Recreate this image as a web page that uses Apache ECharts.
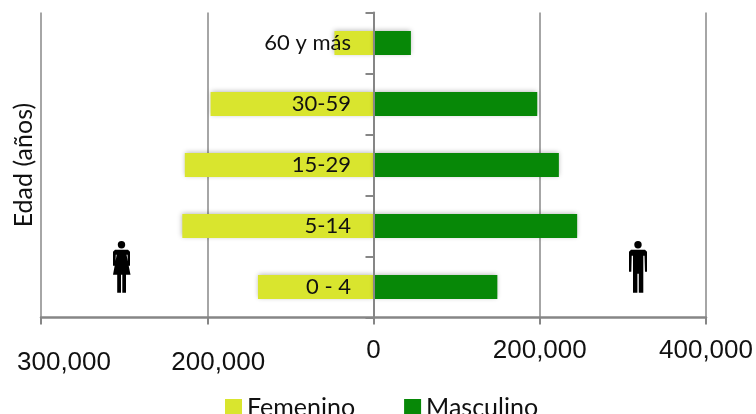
<!DOCTYPE html>
<html>
<head>
<meta charset="utf-8">
<script src="https://cdn.jsdelivr.net/npm/echarts@6/dist/echarts.min.js"></script>
<style>
html, body { margin: 0; padding: 0; background: #fff; overflow: hidden; }
#echart { width: 756px; height: 414px; }
</style>
</head>
<body>
<div id="echart"></div>
<script>
var edades = ['0 - 4', '5-14', '15-29', '30-59', '60 y más'];
var femenino = [-139000, -230000, -227000, -196000, -47000];
var masculino = [149000, 245000, 223000, 197000, 45000];
var tickLabels = { '-400000': '300,000', '-200000': '200,000', '0': '0', '200000': '200,000', '400000': '400,000' };

var myChart = echarts.init(document.getElementById('echart'));
var sombra = { shadowColor: 'rgba(0,0,0,0.3)', shadowBlur: 5, shadowOffsetY: -1 };

var option = {
    animation: false,
    textStyle: { fontFamily: 'Lato' },
    legend: {
        left: 220,
        top: 390,
        itemWidth: 17,
        itemHeight: 17,
        itemGap: 49,
        icon: 'rect',
        textStyle: { fontFamily: 'Lato', fontSize: 25, color: '#111' },
        data: ['Femenino', 'Masculino']
    },
    grid: { left: 41, right: 50, top: 12.6, height: 305, outerBoundsMode: 'none' },
    xAxis: {
        type: 'value',
        min: -400000,
        max: 400000,
        interval: 200000,
        axisLine: { show: true, lineStyle: { color: '#868686', width: 2.5 } },
        axisTick: { show: true, length: 7, lineStyle: { color: '#868686', width: 2 } },
        splitLine: { show: true, lineStyle: { color: '#a6a6a6', width: 2 } },
        axisLabel: {
            margin: 20,
            hideOverlap: false,
            showMinLabel: true,
            showMaxLabel: true,
            alignMinLabel: 'center',
            alignMaxLabel: 'center',
            fontFamily: 'Liberation Sans',
            fontSize: 26,
            color: '#111',
            formatter: function (v) {
                var s = tickLabels[v];
                if (v == -400000) return '{a|' + s + '}';
                if (v == -200000) return '{b|' + s + '}';
                return s;
            },
            rich: {
                a: { fontFamily: 'Liberation Sans', fontSize: 26, color: '#111', padding: [12, 0, 0, 46] },
                b: { fontFamily: 'Liberation Sans', fontSize: 26, color: '#111', padding: [12, 0, 0, 22] }
            }
        }
    },
    yAxis: {
        type: 'category',
        data: edades,
        z: 5,
        name: 'Edad (años)',
        nameLocation: 'middle',
        nameRotate: 90,
        nameGap: 5,
        nameMoveOverlap: false,
        nameTextStyle: { fontFamily: 'Lato', fontSize: 25, color: '#111' },
        axisLine: { show: true, onZero: true, lineStyle: { color: '#868686', width: 2 } },
        axisTick: { show: true, length: 8, lineStyle: { color: '#868686', width: 2 } },
        axisLabel: { margin: -310, fontFamily: 'Lato', fontSize: 22, color: '#111' }
    },
    series: [
        {
            name: 'Femenino',
            type: 'bar',
            stack: 'total',
            barWidth: 24,
            itemStyle: Object.assign({ color: '#d9e52e' }, sombra),
            data: femenino
        },
        {
            name: 'Masculino',
            type: 'bar',
            stack: 'total',
            barWidth: 24,
            itemStyle: Object.assign({ color: '#078807' }, sombra),
            data: masculino
        }
    ],
    graphic: [
        {
            type: 'group',
            left: 113,
            top: 241,
            children: [
                { type: 'circle', shape: { cx: 8.5, cy: 4, r: 3.7 }, style: { fill: '#000' } },
                { type: 'polygon', shape: { points: [[2, 9], [15, 9], [17, 11], [17, 25], [15, 25], [14.5, 14], [13.5, 14], [17.5, 34], [13, 34], [13, 52], [9.3, 52], [9.3, 34], [8, 34], [8, 52], [4.2, 52], [4.2, 34], [0, 34], [3.7, 14], [2.8, 14], [2.4, 25], [0, 25], [0, 11]] }, style: { fill: '#000' } }
            ]
        },
        {
            type: 'group',
            left: 629,
            top: 241,
            children: [
                { type: 'circle', shape: { cx: 9, cy: 4, r: 3.7 }, style: { fill: '#000' } },
                { type: 'polygon', shape: { points: [[2, 9], [16, 9], [18, 11], [18, 31], [16, 31], [15.5, 15], [14.3, 15], [14.3, 52], [9.8, 52], [9.8, 33], [8.4, 33], [8.4, 52], [4, 52], [4, 15], [2.7, 15], [2.3, 31], [0, 31], [0, 11]] }, style: { fill: '#000' } }
            ]
        }
    ]
};

myChart.setOption(option);
</script>
</body>
</html>
